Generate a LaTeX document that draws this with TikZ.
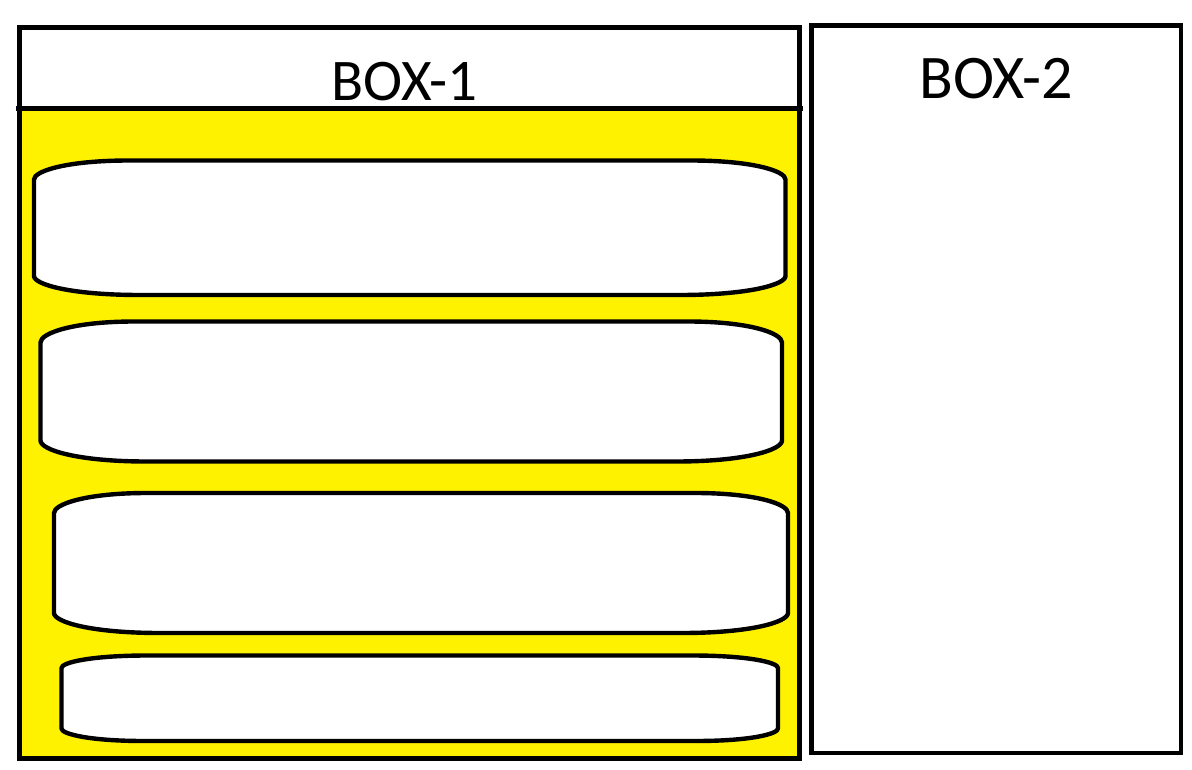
\documentclass[tikz,border=0pt]{standalone}
\usepackage{fontspec}
\setmainfont{Carlito}
\definecolor{boxyellow}{RGB}{255,242,0}
\tikzset{
  frame/.style={draw=black, line width=4.6pt},
  pill/.style={draw=black, line width=4.4pt, fill=white, line join=round},
  lbl/.style={anchor=base, inner sep=0pt, text=black}
}
% #1 L, #2 R, #3 T, #4 B, #5 h (curve height), #6 a top, #7 a bottom
\newcommand\pillpath[7]{%
  \draw[pill] (#1,{#3+#5}) .. controls (#1,{#3+0.55*#5}) and ({#1+0.35*#6},#3) .. ({#1+#6},#3)
    -- ({#2-#6},#3) .. controls ({#2-0.35*#6},#3) and (#2,{#3+0.55*#5}) .. (#2,{#3+#5})
    -- (#2,{#4-#5}) .. controls (#2,{#4-0.55*#5}) and ({#2-0.35*#7},#4) .. ({#2-#7},#4)
    -- ({#1+#7},#4) .. controls ({#1+0.35*#7},#4) and (#1,{#4-0.55*#5}) .. (#1,{#4-#5})
    -- cycle;}
\begin{document}
\begin{tikzpicture}[x=1pt, y=-1pt]
  \useasboundingbox (0,0) rectangle (1192,770);
  \fill[white] (0,0) rectangle (1192,770);
  % BOX-1
  \fill[boxyellow] (19.5,108.5) rectangle (799.5,758.5);
  \draw[frame] (19.5,27.5) rectangle (799.5,758.5);
  \draw[frame] (15.5,108.5) -- (803,108.5);
  \node[lbl, font=\fontsize{59}{59}\selectfont] (t1) at (404.5,101) {BOX-1};
  % pills
  \pillpath{34}{785.5}{160.5}{295}{19}{95}{106}
  \pillpath{40.5}{782}{321.5}{461.5}{21}{94}{106}
  \pillpath{54}{788}{493}{633}{20}{93}{106}
  \pillpath{61.5}{778}{655.5}{741}{12.5}{86}{82}
  % BOX-2
  \draw[frame] (811.5,25.5) rectangle (1181,753);
  \node[lbl, font=\fontsize{62}{62}\selectfont] (t2) at (996,98.5) {BOX-2};
\end{tikzpicture}
\end{document}
